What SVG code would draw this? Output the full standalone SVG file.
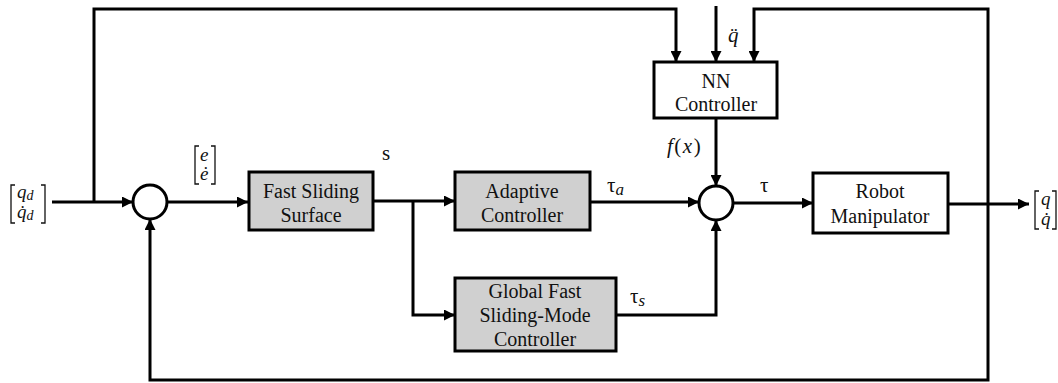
<svg xmlns="http://www.w3.org/2000/svg" width="1058" height="383" viewBox="0 0 1058 383">
  <style>
    .blk { stroke: #000; stroke-width: 3; }
    .gray { fill: #d0d0d0; }
    .white { fill: #fff; }
    .lbl { font-family: 'Liberation Serif', 'DejaVu Serif', serif; font-size: 20px; fill: #111; text-anchor: middle; }
    .math { font-family: 'Liberation Serif', 'DejaVu Serif', serif; font-size: 21px; fill: #111; }
    .vec { font-family: 'Liberation Serif', 'DejaVu Serif', serif; font-size: 19px; fill: #111; font-style: italic; }
    .it { font-style: italic; }
    .wire { fill: none; stroke: #000; stroke-width: 3; }
    .brk { fill: none; stroke: #111; stroke-width: 1.3; }
  </style>
  <defs>
    <marker id="arr" markerWidth="11" markerHeight="11" refX="11" refY="5.5" orient="auto" markerUnits="userSpaceOnUse">
      <path d="M0,0 L11,5.5 L0,11 Z" fill="#000"/>
    </marker>
  </defs>
  <rect width="1058" height="383" fill="#fff"/>

  <!-- connectors -->
  <g id="connectors">
    <!-- reference input to first summing junction -->
    <path class="wire" d="M52,202 H133" marker-end="url(#arr)"/>
    <!-- reference branch to NN controller -->
    <path class="wire" d="M94,202 V9 H676 V62" marker-end="url(#arr)"/>
    <!-- acceleration input -->
    <path class="wire" d="M716,6 V62" marker-end="url(#arr)"/>
    <!-- state feedback to NN controller -->
    <path class="wire" d="M988,204 V9 H754 V62" marker-end="url(#arr)"/>
    <!-- error to sliding surface -->
    <path class="wire" d="M167,202 H248" marker-end="url(#arr)"/>
    <!-- s to adaptive controller -->
    <path class="wire" d="M373,201 H455" marker-end="url(#arr)"/>
    <!-- s to global fast SMC -->
    <path class="wire" d="M413,201 V315 H455" marker-end="url(#arr)"/>
    <!-- tau_a -->
    <path class="wire" d="M590,202 H699" marker-end="url(#arr)"/>
    <!-- tau_s -->
    <path class="wire" d="M616,315 H716 V220" marker-end="url(#arr)"/>
    <!-- f(x) -->
    <path class="wire" d="M716,118 V186" marker-end="url(#arr)"/>
    <!-- tau to robot -->
    <path class="wire" d="M733,203 H813" marker-end="url(#arr)"/>
    <!-- output -->
    <path class="wire" d="M948,204 H1029" marker-end="url(#arr)"/>
    <!-- state feedback to first summing junction -->
    <path class="wire" d="M988,204 V380 H150 V219" marker-end="url(#arr)"/>
  </g>

  <!-- summing junctions -->
  <g id="sum1"><circle class="blk white" cx="150" cy="202" r="17"/></g>
  <g id="sum2"><circle class="blk white" cx="716" cy="203" r="17"/></g>

  <!-- blocks -->
  <g id="fast-sliding-surface">
    <rect class="blk gray" x="249" y="172" width="124" height="58"/>
    <text class="lbl" x="311" y="198">Fast Sliding</text>
    <text class="lbl" x="311" y="222">Surface</text>
  </g>
  <g id="adaptive-controller">
    <rect class="blk gray" x="455" y="172" width="135" height="58"/>
    <text class="lbl" x="522" y="198">Adaptive</text>
    <text class="lbl" x="522" y="222">Controller</text>
  </g>
  <g id="global-fast-smc">
    <rect class="blk gray" x="455" y="278" width="161" height="73"/>
    <text class="lbl" x="535" y="298">Global Fast</text>
    <text class="lbl" x="535" y="322">Sliding-Mode</text>
    <text class="lbl" x="535" y="346">Controller</text>
  </g>
  <g id="nn-controller">
    <rect class="blk white" x="654" y="62" width="123" height="56"/>
    <text class="lbl" x="716" y="88">NN</text>
    <text class="lbl" x="716" y="111">Controller</text>
  </g>
  <g id="robot-manipulator">
    <rect class="blk white" x="813" y="173" width="135" height="60"/>
    <text class="lbl" x="880" y="198">Robot</text>
    <text class="lbl" x="880" y="223">Manipulator</text>
  </g>

  <!-- signal labels -->
  <g id="labels">
    <!-- desired state vector -->
    <path class="brk" d="M15,185 H11 V223 H15"/>
    <text class="vec" x="17" y="198">q<tspan font-size="14" dy="2">d</tspan></text>
    <text class="vec" x="17" y="218">q̇<tspan font-size="14" dy="2">d</tspan></text>
    <path class="brk" d="M41,185 H45 V223 H41"/>

    <!-- error vector -->
    <path class="brk" d="M199,146 H195 V184 H199"/>
    <text class="vec" x="200" y="161">e</text>
    <text class="vec" x="200" y="180">ė</text>
    <path class="brk" d="M211,146 H215 V184 H211"/>

    <text class="math" x="382" y="160">s</text>
    <text class="math" x="607" y="192">τ<tspan class="it" font-size="17" dy="3">a</tspan></text>
    <text class="math" x="630" y="303">τ<tspan class="it" font-size="17" dy="3">s</tspan></text>
    <text class="math it" x="667" y="153" letter-spacing="1.5">f<tspan font-style="normal">(</tspan>x<tspan font-style="normal">)</tspan></text>
    <text class="math it" x="728" y="42">q̈</text>
    <text class="math" x="760" y="192">τ</text>

    <!-- output state vector -->
    <path class="brk" d="M1039,191 H1035 V229 H1039"/>
    <text class="vec" x="1041" y="205">q</text>
    <text class="vec" x="1041" y="225">q̇</text>
    <path class="brk" d="M1052,191 H1056 V229 H1052"/>
  </g>
</svg>
